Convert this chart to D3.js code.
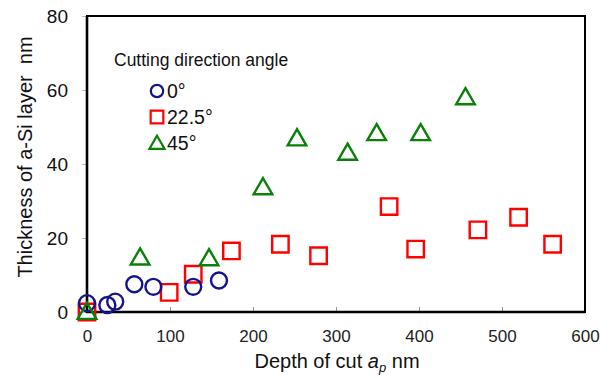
<!DOCTYPE html>
<html>
<head>
<meta charset="utf-8">
<script src="https://cdn.jsdelivr.net/npm/d3@7"></script>
<style>
body { margin: 0; background: #fff; }
svg text { font-family: Arial, "Liberation Sans", sans-serif; }
</style>
</head>
<body>
<svg id="chart" width="616" height="378"></svg>
<script>
// data
const xTicks = [0, 100, 200, 300, 400, 500, 600]
const yTicks = [0, 20, 40, 60, 80]
const seriesNames = ['0°', '22.5°', '45°']

const deg0 = [[0, 2.4], [24.5, 1.9], [34, 2.8], [57, 7.5], [80, 6.8], [128, 6.8], [159, 8.5]]
const deg22 = [[0, 0], [99, 5.3], [128, 10.2], [174, 16.5], [233, 18.3], [279, 15.2],
    [364, 28.5], [396, 17], [471, 22.2], [520, 25.6], [561, 18.3]]
const deg45 = [[0, 0], [64, 14.7], [147, 14.5], [212, 33.7], [253, 46.9], [314, 43],
    [349, 48.3], [402, 48.3], [456, 58]]

const colors = ['#14148c', '#f00', '#0a800a']

const svg = d3.select('#chart')
const m = { left: 87, top: 16, right: 585, bottom: 312 }

const x = d3.scaleLinear().domain([0, 600]).range([m.left, m.right])
const y = d3.scaleLinear().domain([0, 80]).range([m.bottom, m.top])

// ticks
svg.append('g')
    .attr('transform', `translate(0,${m.bottom})`)
    .call(d3.axisBottom(x).tickValues(xTicks).tickSize(-5).tickPadding(18))
    .call(g => g.select('.domain').remove())
    .call(g => g.selectAll('line').attr('stroke', '#999'))
    .call(g => g.selectAll('text')
        .attr('font-family', '"Liberation Serif", "DejaVu Serif", serif')
        .attr('font-size', 17).attr('fill', '#222'))

svg.append('g')
    .attr('transform', `translate(${m.left},0)`)
    .call(d3.axisLeft(y).tickValues(yTicks).tickSize(5).tickPadding(14))
    .call(g => g.select('.domain').remove())
    .call(g => g.selectAll('line').attr('stroke', '#bbb'))
    .call(g => g.selectAll('text')
        .attr('font-family', 'Arial, "Liberation Sans", sans-serif')
        .attr('font-size', 19).attr('fill', '#111'))

// frame
svg.append('rect')
    .attr('x', m.left).attr('y', m.top)
    .attr('width', m.right - m.left).attr('height', m.bottom - m.top)
    .attr('fill', 'none').attr('stroke', '#000').attr('stroke-width', 2)
svg.append('path')
    .attr('d', `M${m.left},${m.top}V${m.bottom}H${m.right}`)
    .attr('fill', 'none').attr('stroke', '#000').attr('stroke-width', 2.6)

const shapes = [d3.symbolCircle, d3.symbolSquare, d3.symbolTriangle]
const sizes = [200, 270, 150]

const drawMarks = (data, i) => {
    svg.append('g').selectAll('path')
        .data(data)
        .enter()
        .append('path')
        .attr('d', d3.symbol().type(shapes[i]).size(sizes[i]))
        .attr('transform', d => `translate(${x(d[0])},${y(d[1]) + (i === 2 ? 1.5 : 0)})`)
        .attr('fill', 'none')
        .attr('stroke', colors[i])
        .attr('stroke-width', 2.4)
}
drawMarks(deg22, 1)
drawMarks(deg0, 0)
drawMarks(deg45, 2)

// legend
svg.append('text').attr('x', 114).attr('y', 66)
    .attr('font-size', 17.5).attr('fill', '#111').text('Cutting direction angle')

const leg = svg.append('g').selectAll('g')
    .data(seriesNames)
    .enter()
    .append('g')
    .attr('transform', (d, i) => `translate(157,${91 + i * 26})`)
leg.append('path')
    .attr('d', (d, i) => d3.symbol().type(shapes[i]).size([120, 160, 100][i])())
    .attr('transform', (d, i) => i === 2 ? 'translate(0,1.5)' : null)
    .attr('fill', 'none')
    .attr('stroke', (d, i) => colors[i])
    .attr('stroke-width', 2.2)
leg.append('text')
    .attr('x', 10).attr('y', 7)
    .attr('font-size', 19.5).attr('fill', '#111')
    .text(d => d)

// axis titles
const xt = svg.append('text').attr('x', 337).attr('y', 368)
    .attr('text-anchor', 'middle').attr('font-size', 20).attr('fill', '#111')
xt.append('tspan').text('Depth of cut ')
xt.append('tspan').attr('font-style', 'italic').text('a')
xt.append('tspan').attr('font-style', 'italic').attr('font-size', 13).attr('dy', 4).text('p')
xt.append('tspan').attr('dy', -4).text(' nm')

svg.append('text')
    .attr('transform', 'translate(32,157) rotate(-90)')
    .attr('text-anchor', 'middle').attr('font-size', 20).attr('fill', '#111')
    .attr('xml:space', 'preserve')
    .text('Thickness of a-Si layer  nm')
</script>
</body>
</html>
